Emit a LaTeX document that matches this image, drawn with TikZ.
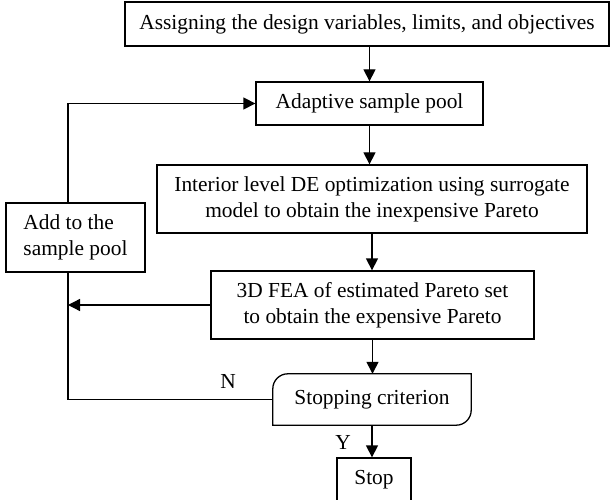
\documentclass[tikz,border=0pt]{standalone}
\usepackage{fontspec}
\setmainfont{Liberation Serif}
\usetikzlibrary{arrows.meta}
\begin{document}
\begin{tikzpicture}[x=1pt,y=-1pt,
  every node/.style={font=\fontsize{21.4}{25.8}\selectfont, inner sep=0pt},
  box/.style={draw, line width=1.3pt, align=center},
  arr/.style={line width=1.3pt, -{Triangle[length=12pt,width=12pt]}},
  ln/.style={line width=1.3pt}]
\useasboundingbox (0,0) rectangle (611,500);
\node[box, minimum width=484pt, minimum height=44pt] (n1) at (367,24) {Assigning the design variables, limits, and objectives};
\node[box, minimum width=227pt, minimum height=43pt] (n2) at (369.5,103.5) {Adaptive sample pool};
\node[box, minimum width=430pt, minimum height=68pt] (n3) at (372,199) {Interior level DE optimization using surrogate\\model to obtain the inexpensive Pareto};
\node[box, minimum width=323pt, minimum height=68pt] (n4) at (372.5,305) {3D FEA of estimated Pareto set\\to obtain the expensive Pareto};
\node[box, align=left, minimum width=139pt, minimum height=69pt] (add) at (75.5,237.5) {Add to the\\sample pool};
\node[minimum width=198pt, minimum height=51pt] (sc) at (372,399.5) {Stopping criterion};
\draw[ln] (sc.south west) -- ([yshift=-15pt]sc.north west) arc[start angle=180,end angle=90,radius=15pt] -- (sc.north east) -- ([yshift=15pt]sc.south east) arc[start angle=0,end angle=-90,radius=15pt] -- cycle;
\node[box, minimum width=74pt, minimum height=44pt] (stop) at (374,480) {};
\node (stoptxt) at (374,480) {Stop};
\node (nlab) at (228,381) {N};
\node (ylab) at (343,442) {Y};
\coordinate (lx) at (68,0);
\draw[arr] (n2.north |- n1.south) -- (n2.north);
\draw[arr] (n2.south) -- (n2.south |- n3.north);
\draw[arr] (n3.south) -- (n3.south |- n4.north);
\draw[arr] (n4.south) -- (n4.south |- sc.north);
\draw[arr] (sc.south) -- (sc.south |- stop.north);
\draw[ln] (sc.west) -- (sc.west -| lx) -- (lx |- add.south);
\draw[arr] (lx |- add.north) |- (n2.west);
\draw[arr] (n4.west) -- (n4.west -| lx);
\end{tikzpicture}
\end{document}
